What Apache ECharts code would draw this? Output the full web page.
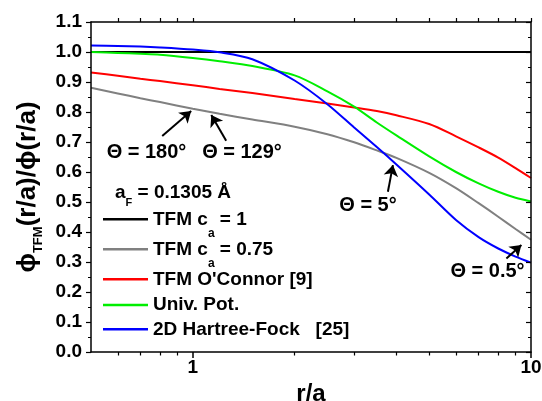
<!DOCTYPE html>
<html><head><meta charset="utf-8">
<script src="https://cdn.jsdelivr.net/npm/echarts@6/dist/echarts.min.js"></script>
<style>html,body{margin:0;padding:0;background:#fff}#c{width:542px;height:401px}</style>
</head><body><div id="c"></div>
<script>
// ---- data ----
const R = [0.5, 0.6, 0.7, 0.8, 1.0, 1.2, 1.5, 2, 2.5, 3, 3.5, 4, 5, 6, 7, 8, 9, 10];
const TFM_CA1   = [1.0, 1.0, 1.0, 1.0, 1.0, 1.0, 1.0, 1.0, 1.0, 1.0, 1.0, 1.0, 1.0, 1.0, 1.0, 1.0, 1.0, 1.0];
const TFM_CA075 = [0.881, 0.862, 0.846, 0.833, 0.811, 0.794, 0.775, 0.751, 0.726, 0.699, 0.672, 0.647, 0.597, 0.546, 0.496, 0.451, 0.410, 0.374];
const OCONNOR   = [0.932, 0.921, 0.911, 0.903, 0.889, 0.877, 0.863, 0.843, 0.828, 0.815, 0.803, 0.789, 0.760, 0.719, 0.682, 0.648, 0.613, 0.580];
const UNIV_POT  = [1.000, 0.997, 0.994, 0.991, 0.980, 0.969, 0.953, 0.922, 0.869, 0.818, 0.765, 0.722, 0.652, 0.600, 0.562, 0.534, 0.514, 0.502];
const HARTREE_FOCK = [1.022, 1.020, 1.018, 1.015, 1.008, 0.999, 0.976, 0.905, 0.826, 0.748, 0.683, 0.625, 0.525, 0.440, 0.383, 0.345, 0.318, 0.298];

const SERIES_NAMES = ['TFM ca = 1', 'TFM ca = 0.75', "TFM O'Connor [9]", 'Univ. Pot.', '2D Hartree-Fock   [25]'];
const LEGEND_RICH = [
  '{t|TFM c}{s|a}{t| = 1}',
  '{t|TFM c}{s|a}{t| = 0.75}',
  "{t|TFM O'Connor [9]}",
  '{t|Univ. Pot.}',
  '{t|2D Hartree-Fock   [25]}'
];
const X_MIN = 0.5, X_MAX = 10;
const X_LABEL_TICKS = [1, 10];
const X_MINOR_TICKS = [0.6, 0.7, 0.8, 0.9, 2, 3, 4, 5, 6, 7, 8, 9];
const Y_MIN = 0, Y_MAX = 1.1, Y_STEP = 0.1;

const ANNOT_TEXT = ['Θ = 180°', 'Θ = 129°', 'Θ = 5°', 'Θ = 0.5°'];
const ARROW_TAIL = [[0.812, 0.720], [1.255, 0.704], [3.775, 0.534], [8.458, 0.312]];
const ARROW_HEAD = [[0.989, 0.803], [1.134, 0.790], [3.906, 0.623], [9.367, 0.357]];

// ---- styling ----
const FONT = '"Liberation Sans", Arial, Helvetica, sans-serif';
const COLORS = ['#000000', '#808080', '#ff0000', '#00ee00', '#0000ff'];
const VALUES = [TFM_CA1, TFM_CA075, OCONNOR, UNIV_POT, HARTREE_FOCK];
const LEGEND_CENTERS = [219.3, 249.3, 279.3, 305, 329.3];
const ANNOT_POS = [[146.5, 152], [242, 152], [368, 205], [487.5, 271.5]];

const lg = v => Math.log10(v);

function build() {
  const axLine = () => ({show: true, onZero: false, lineStyle: {color: '#000', width: 1.5}});
  const baseValueX = pos => ({
    type: 'value', min: lg(X_MIN), max: lg(X_MAX), position: pos, z: 50,
    splitLine: {show: false}, axisLine: {show: false, onZero: false},
    axisLabel: {show: false}, axisTick: {show: false}
  });
  const series = VALUES.map((vals, i) => ({
    name: SERIES_NAMES[i], type: 'line', xAxisIndex: 0, yAxisIndex: 0,
    data: R.map((r, k) => [r, vals[k]]),
    symbol: 'none', smooth: 0.3,
    lineStyle: {color: COLORS[i], width: 2}, itemStyle: {color: COLORS[i]}
  }));
  series[0].markLine = {
    silent: true, animation: false, symbol: ['none', 'arrow'], symbolSize: 11,
    label: {show: false}, lineStyle: {color: '#000', width: 2, type: 'solid'},
    data: ARROW_TAIL.map((t, i) => [{coord: t}, {coord: ARROW_HEAD[i]}])
  };
  const legends = SERIES_NAMES.map((n, i) => ({
    data: [n], left: 103, top: LEGEND_CENTERS[i] - 22, padding: 0,
    itemWidth: 45, itemHeight: 2.5, icon: 'rect', selectedMode: false,
    formatter: () => LEGEND_RICH[i],
    textStyle: {
      fontFamily: FONT, fontSize: 19, fontWeight: 'bold', color: '#000', lineHeight: 44,
      rich: {
        t: {fontFamily: FONT, fontSize: 19, fontWeight: 'bold', color: '#000', lineHeight: 44},
        s: {fontFamily: FONT, fontSize: 12, fontWeight: 'bold', color: '#000', lineHeight: 12, padding: [29, 0, 0, 0]}
      }
    }
  }));
  const graphics = ANNOT_TEXT.map((t, i) => ({
    type: 'text', x: ANNOT_POS[i][0], y: ANNOT_POS[i][1], z: 100,
    style: {text: t, fill: '#000', font: 'bold 20px ' + FONT, align: 'center', verticalAlign: 'middle'}
  }));
  graphics.push({
    type: 'text', x: 115, y: 192.3, z: 100,
    style: {
      text: '{m|a}{s|F}{m| = 0.1305 Å}', align: 'left', verticalAlign: 'middle',
      rich: {
        m: {fontFamily: FONT, fontSize: 19, fontWeight: 'bold', fill: '#000', lineHeight: 40},
        s: {fontFamily: FONT, fontSize: 11, fontWeight: 'bold', fill: '#000', lineHeight: 11, padding: [22, 0, 0, 0]}
      }
    }
  });
  const xAxes = [
    {type: 'log', logBase: 10, min: X_MIN, max: X_MAX, position: 'bottom', z: 50,
     axisLine: axLine(), axisTick: {show: false}, axisLabel: {show: false}, splitLine: {show: false}},
    Object.assign(baseValueX('bottom'), {
      axisTick: {show: true, customValues: X_LABEL_TICKS.map(lg), length: 6, lineStyle: {color: '#000', width: 1.5}},
      axisLabel: {show: true, customValues: X_LABEL_TICKS.map(lg), margin: 6,
        formatter: v => String(Math.round(Math.pow(10, v))),
        fontFamily: FONT, fontSize: 19, fontWeight: 'bold', color: '#000'},
      name: 'r/a', nameLocation: 'middle', nameGap: 21,
      nameTextStyle: {fontFamily: FONT, fontSize: 24, fontWeight: 'bold', color: '#000'}
    }),
    Object.assign(baseValueX('bottom'), {
      axisTick: {show: true, customValues: X_MINOR_TICKS.map(lg), length: 3.5, lineStyle: {color: '#000', width: 1.2}}
    }),
    Object.assign(baseValueX('top'), {
      axisLine: axLine(),
      axisTick: {show: true, customValues: X_MINOR_TICKS.concat(X_LABEL_TICKS).map(lg), length: 4, lineStyle: {color: '#000', width: 1.2}}
    })
  ];
  const yAxes = [
    {type: 'value', min: Y_MIN, max: Y_MAX, interval: Y_STEP, position: 'left', z: 50,
     axisLine: axLine(),
     axisTick: {show: true, length: 5, lineStyle: {color: '#000', width: 1.2}},
     minorTick: {show: true, splitNumber: 2, length: 3, lineStyle: {color: '#000', width: 1}},
     splitLine: {show: false},
     axisLabel: {margin: 9, formatter: v => v.toFixed(1), fontFamily: FONT, fontSize: 19, fontWeight: 'bold', color: '#000'},
     name: '{m|ϕ}{s|TFM}{m|(r/a)/ϕ(r/a)}', nameLocation: 'middle', nameRotate: 90, nameGap: 49,
     nameTextStyle: {
       rich: {
         m: {fontFamily: FONT, fontSize: 26, fontWeight: 'bold', color: '#000', lineHeight: 28},
         s: {fontFamily: FONT, fontSize: 13, fontWeight: 'bold', color: '#000', lineHeight: 13, padding: [20, 0, 0, 0]}
       }
     }},
    {type: 'value', min: Y_MIN, max: Y_MAX, interval: Y_STEP, position: 'right', z: 50,
     axisLine: axLine(),
     axisTick: {show: true, inside: true, length: 5, lineStyle: {color: '#000', width: 1.2}},
     minorTick: {show: true, splitNumber: 2, length: 3, lineStyle: {color: '#000', width: 1}},
     splitLine: {show: false}, axisLabel: {show: false}}
  ];
  return {
    animation: false,
    grid: {left: 91, right: 11, top: 22, bottom: 49, containLabel: false, outerBoundsMode: 'none'},
    legend: legends, xAxis: xAxes, yAxis: yAxes, series: series, graphic: graphics
  };
}

const chart = echarts.init(document.getElementById('c'), null, {renderer: 'canvas'});
chart.setOption(build());

// keep the axis frame and ticks visible (all of them are black lines)
function ensureAxes() {
  try {
    const zr = chart.getZr();
    let changed = false;
    zr.storage.getDisplayList(true).forEach(el => {
      if (el.type === 'line' && (el.invisible || el.style.stroke !== '#000' || el.style.opacity === 0)) {
        el.invisible = false;
        el.setStyle({stroke: '#000', opacity: 1});
        changed = true;
      }
    });
    if (changed) zr.refreshImmediately();
  } catch (e) {}
}
ensureAxes();
requestAnimationFrame(ensureAxes);
[30, 100, 250, 500, 1000, 2000, 3500].forEach(t => setTimeout(ensureAxes, t));
</script></body></html>
